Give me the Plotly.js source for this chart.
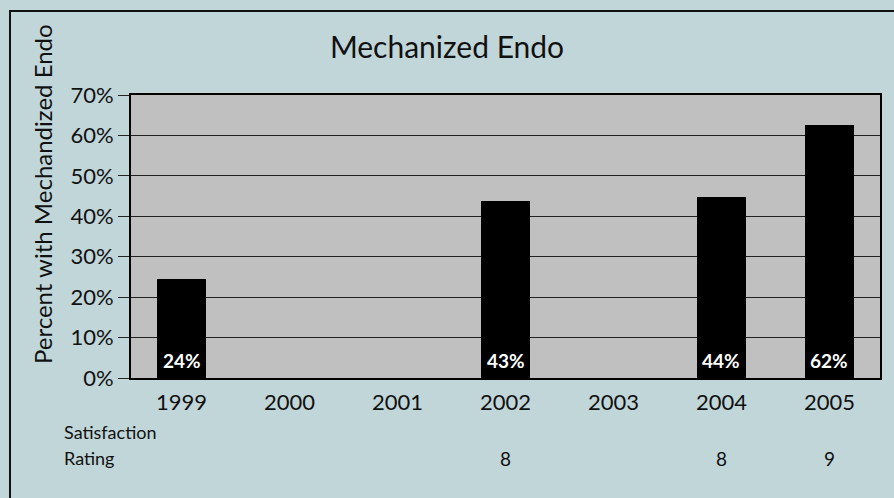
<!DOCTYPE html>
<html>
<head>
<meta charset="utf-8">
<script src="https://cdn.plot.ly/plotly-3.0.1.min.js"></script>
<style>html,body{margin:0;padding:0;background:#c1d6d9;}#chart{width:894px;height:498px;}</style>
</head>
<body>
<div id="chart"></div>
<script>
const years = ['1999','2000','2001','2002','2003','2004','2005'];
const percentValues = [24.6, null, null, 43.8, null, 44.7, 62.6];
const barLabels = ['24%', '', '', '43%', '', '44%', '62%'];
const satisfactionRatings = [null, null, null, 8, null, 8, 9];
const yTickVals = [0, 10, 20, 30, 40, 50, 60, 70];
const yTickText = ['0%', '10%', '20%', '30%', '40%', '50%', '60%', '70%'];

const FONT = 'Lato, "Open Sans", sans-serif';

const trace = {
  type: 'bar',
  x: years,
  y: percentValues,
  marker: {color: '#000000', line: {width: 0}},
  width: 0.454,
  hoverinfo: 'none'
};

const annotations = [
  {text: 'Percent with Mechandized Endo', textangle: -90, xref: 'paper', yref: 'paper',
   x: (42 - 131) / 749, y: (378 - 194) / 283, xanchor: 'center', yanchor: 'middle',
   showarrow: false, font: {family: FONT, size: 24, color: '#111'}},
  {text: 'Satisfaction', xref: 'paper', yref: 'paper', x: (62 - 131) / 749, y: (378 - 432) / 283,
   xanchor: 'left', yanchor: 'middle', showarrow: false, font: {family: FONT, size: 18, color: '#111'}},
  {text: 'Rating', xref: 'paper', yref: 'paper', x: (62 - 131) / 749, y: (378 - 458) / 283,
   xanchor: 'left', yanchor: 'middle', showarrow: false, font: {family: FONT, size: 18, color: '#111'}}
];
years.forEach((yr, i) => {
  if (satisfactionRatings[i] !== null) {
    annotations.push({text: String(satisfactionRatings[i]), xref: 'x', yref: 'paper', x: i,
      y: (378 - 458) / 283, xanchor: 'center', yanchor: 'middle', showarrow: false,
      font: {family: FONT, size: 19, color: '#111'}});
  }
  if (barLabels[i]) {
    annotations.push({text: '<b>' + barLabels[i] + '</b>', xref: 'x', yref: 'y', x: i, y: 0,
      xanchor: 'center', yanchor: 'bottom', yshift: 4, showarrow: false,
      font: {family: FONT, size: 19, color: '#ffffff'}});
  }
});

const layout = {
  width: 894, height: 498,
  margin: {l: 131, r: 14, t: 95, b: 120, pad: 0},
  paper_bgcolor: '#c1d6d9',
  plot_bgcolor: '#c0c0c0',
  showlegend: false,
  title: {text: 'Mechanized Endo', font: {family: FONT, size: 30, color: '#111'},
          x: 0.5, xref: 'container', xanchor: 'center', y: 1 - 47 / 498, yref: 'container', yanchor: 'middle'},
  xaxis: {type: 'category', range: [-0.468, 6.468], showgrid: false, zeroline: false,
          showline: true, linecolor: '#000', linewidth: 2, mirror: true, ticks: '',
          ticklabelstandoff: 4,
          tickfont: {family: FONT, size: 22, color: '#111'}, fixedrange: true},
  yaxis: {range: [0, 70], tickvals: yTickVals, ticktext: yTickText, showgrid: true,
          gridcolor: '#222', gridwidth: 1, zeroline: false, showline: true, linecolor: '#000',
          linewidth: 2, mirror: true, ticks: 'outside', ticklen: 11, tickcolor: '#222', tickwidth: 1,
          tickfont: {family: FONT, size: 22, color: '#111'}, fixedrange: true},
  annotations: annotations,
  shapes: [
    {type: 'rect', xref: 'paper', yref: 'paper', x0: (10 - 131) / 749, x1: 1.2,
     y0: -0.5, y1: (378 - 11) / 283, line: {color: '#111', width: 2}, fillcolor: 'rgba(0,0,0,0)', layer: 'below'}
  ],
  bargap: 0
};

Plotly.newPlot('chart', [trace], layout, {displayModeBar: false, staticPlot: true});
</script>
</body>
</html>
